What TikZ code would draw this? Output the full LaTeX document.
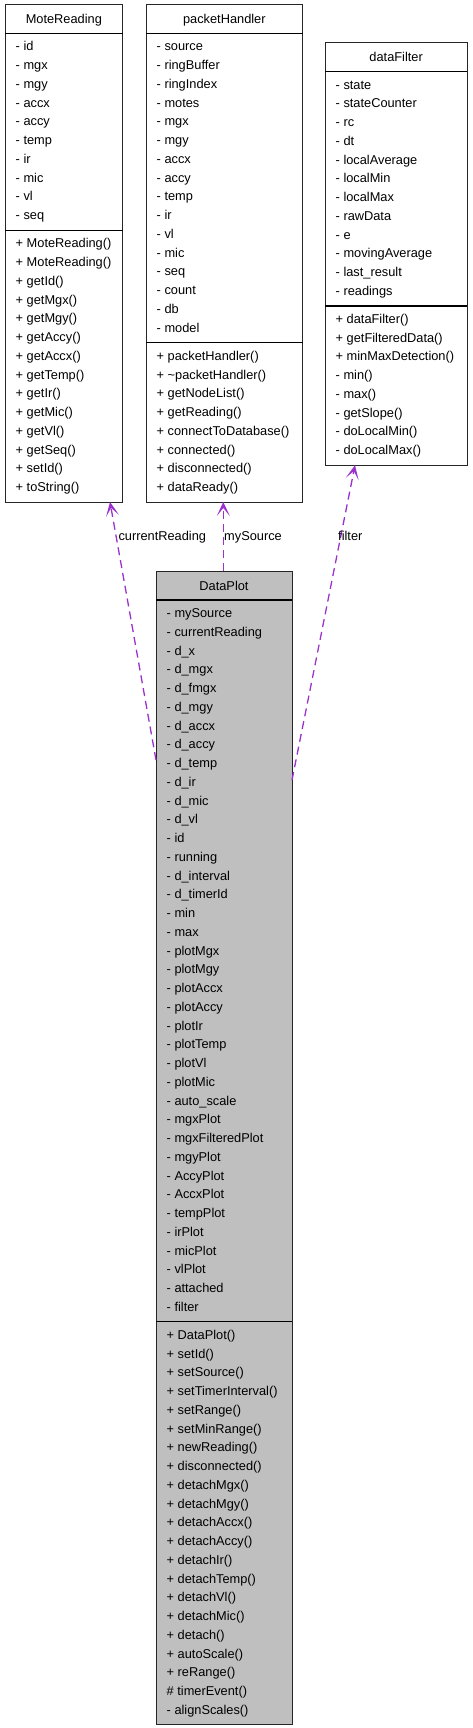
\documentclass[tikz,border=0pt]{standalone}
\usepackage{fontspec}
\setmainfont{Liberation Sans}
\usetikzlibrary{arrows.meta}
\definecolor{edgepurple}{HTML}{9A32CD}
\definecolor{greyfill}{HTML}{BFBFBF}
\tikzset{
  classbox/.style={draw=black!85, line width=1pt, inner sep=0pt, outer sep=0pt, anchor=north west},
  sepline/.style={draw=black, line width=1.4pt},
  rowtext/.style={anchor=base west, inner sep=0pt, font=\fontsize{12.8}{15}\selectfont},
  titletext/.style={anchor=base, inner sep=0pt, font=\fontsize{12.8}{15}\selectfont},
  lbl/.style={anchor=base west, inner sep=0pt, font=\fontsize{12.8}{15}\selectfont},
  uses/.style={draw=edgepurple, line width=1.3pt, dash pattern=on 8pt off 5pt,
    -{Stealth[length=14pt,width=13pt,inset=8pt]}}
}
\begin{document}
\begin{tikzpicture}[x=1pt,y=-1pt]
\useasboundingbox (0,0) rectangle (472,1728);

% ---------- MoteReading ----------
\node[classbox, minimum width=117.7pt, minimum height=497pt] (mote) at (5,5) {};
\draw[sepline] (mote.west |- 0,33.5) -- (mote.east |- 0,33.5);
\draw[sepline] (mote.west |- 0,230.25) -- (mote.east |- 0,230.25);
\node[titletext] (mote-title) at (63.85,23.75) {MoteReading};
\foreach \t [count=\i from 0] in {- id,- mgx,- mgy,- accx,- accy,- temp,- ir,- mic,- vl,- seq}
  \node[rowtext] (mote-a\i) at (15.5,51+\i*18.75) {\t};
\foreach \t [count=\i from 0] in {+ MoteReading(),+ MoteReading(),+ getId(),+ getMgx(),+ getMgy(),+ getAccy(),+ getAccx(),+ getTemp(),+ getIr(),+ getMic(),+ getVl(),+ getSeq(),+ setId(),+ toString()}
  \node[rowtext] (mote-m\i) at (15.5,247.75+\i*18.75) {\t};

% ---------- packetHandler ----------
\node[classbox, minimum width=156.7pt, minimum height=497pt] (packet) at (146,5) {};
\draw[sepline] (packet.west |- 0,33.5) -- (packet.east |- 0,33.5);
\draw[sepline] (packet.west |- 0,342.75) -- (packet.east |- 0,342.75);
\node[titletext] (packet-title) at (224.35,23.75) {packetHandler};
\foreach \t [count=\i from 0] in {- source,- ringBuffer,- ringIndex,- motes,- mgx,- mgy,- accx,- accy,- temp,- ir,- vl,- mic,- seq,- count,- db,- model}
  \node[rowtext] (packet-a\i) at (156.5,51+\i*18.75) {\t};
\foreach \t [count=\i from 0] in {+ packetHandler(),+ \textasciitilde packetHandler(),+ getNodeList(),+ getReading(),+ connectToDatabase(),+ connected(),+ disconnected(),+ dataReady()}
  \node[rowtext] (packet-m\i) at (156.5,360.25+\i*18.75) {\t};

% ---------- dataFilter ----------
\node[classbox, minimum width=142.3pt, minimum height=422.5pt] (filter) at (325,42.7) {};
\draw[sepline] (filter.west |- 0,71.7) -- (filter.east |- 0,71.7);
\draw[sepline] (filter.west |- 0,305.95) -- (filter.east |- 0,305.95);
\node[titletext] (filter-title) at (396.15,61.7) {dataFilter};
\foreach \t [count=\i from 0] in {- state,- stateCounter,- rc,- dt,- localAverage,- localMin,- localMax,- rawData,- e,- movingAverage,- last\_result,- readings}
  \node[rowtext] (filter-a\i) at (335.5,89.2+\i*18.75) {\t};
\foreach \t [count=\i from 0] in {+ dataFilter(),+ getFilteredData(),+ minMaxDetection(),- min(),- max(),- getSlope(),- doLocalMin(),- doLocalMax()}
  \node[rowtext] (filter-m\i) at (335.5,323.45+\i*18.75) {\t};

% ---------- DataPlot ----------
\node[classbox, fill=greyfill, minimum width=136pt, minimum height=1153.75pt] (dataplot) at (156,571) {};
\draw[sepline] (dataplot.west |- 0,600) -- (dataplot.east |- 0,600);
\draw[sepline] (dataplot.west |- 0,1321.75) -- (dataplot.east |- 0,1321.75);
\node[titletext] (dataplot-title) at (224,590) {DataPlot};
\foreach \t [count=\i from 0] in {- mySource,- currentReading,- d\_x,- d\_mgx,- d\_fmgx,- d\_mgy,- d\_accx,- d\_accy,- d\_temp,- d\_ir,- d\_mic,- d\_vl,- id,- running,- d\_interval,- d\_timerId,- min,- max,- plotMgx,- plotMgy,- plotAccx,- plotAccy,- plotIr,- plotTemp,- plotVl,- plotMic,- auto\_scale,- mgxPlot,- mgxFilteredPlot,- mgyPlot,- AccyPlot,- AccxPlot,- tempPlot,- irPlot,- micPlot,- vlPlot,- attached,- filter}
  \node[rowtext] (dataplot-a\i) at (166.5,617.5+\i*18.75) {\t};
\foreach \t [count=\i from 0] in {+ DataPlot(),+ setId(),+ setSource(),+ setTimerInterval(),+ setRange(),+ setMinRange(),+ newReading(),+ disconnected(),+ detachMgx(),+ detachMgy(),+ detachAccx(),+ detachAccy(),+ detachIr(),+ detachTemp(),+ detachVl(),+ detachMic(),+ detach(),+ autoScale(),+ reRange(),\# timerEvent(),- alignScales()}
  \node[rowtext] (dataplot-m\i) at (166.5,1339.25+\i*18.75) {\t};

% ---------- connectors ----------
\draw[uses] (dataplot.west |- 0,760) -- (mote.south -| 110,0);
\draw[uses] (dataplot.north -| 223.3,0) -- (packet.south -| 223.3,0);
\draw[uses] (dataplot.east |- 0,780) -- (filter.south -| 355,0);

\node[lbl] (lab-cr) at (118.3,540.5) {currentReading};
\node[lbl] (lab-ms) at (224,540.5) {mySource};
\node[lbl] (lab-fi) at (338,540.5) {filter};
\end{tikzpicture}
\end{document}
